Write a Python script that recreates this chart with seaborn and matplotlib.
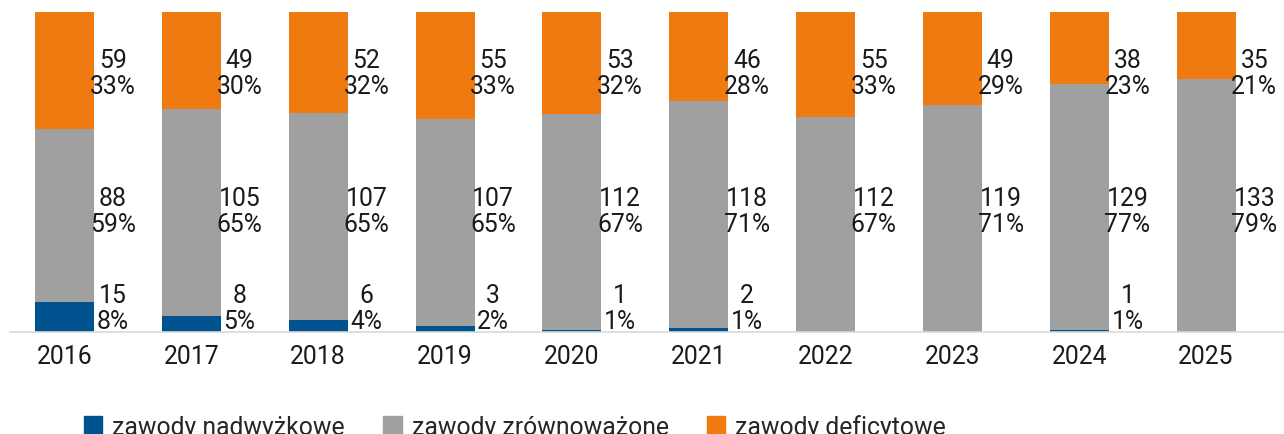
import matplotlib
matplotlib.use("Agg")
import matplotlib.pyplot as plt
from matplotlib.patches import Patch
import numpy as np
import pandas as pd
import seaborn as sns

# dane
lata = ["2016", "2017", "2018", "2019", "2020", "2021", "2022", "2023", "2024", "2025"]
nadwyzkowe = [15, 8, 6, 3, 1, 2, 0, 0, 1, 0]
zrownowazone = [88, 105, 107, 107, 112, 118, 112, 119, 129, 133]
deficytowe = [59, 49, 52, 55, 53, 46, 55, 49, 38, 35]
proc_nadwyzkowe = [8, 5, 4, 2, 1, 1, None, None, 1, None]
proc_zrownowazone = [59, 65, 65, 65, 67, 71, 67, 71, 77, 79]
proc_deficytowe = [33, 30, 32, 33, 32, 28, 33, 29, 23, 21]

kolory = {"nad": "#00538F", "zrow": "#A0A0A0", "def": "#EF7B10"}

sns.set_style("white")
plt.rcParams["font.family"] = ["Roboto", "DejaVu Sans"]

df = pd.DataFrame({"rok": lata, "nad": nadwyzkowe, "zrow": zrownowazone, "def": deficytowe})
suma = df["nad"] + df["zrow"] + df["def"]
df["c_nad"] = df["nad"] / suma
df["c_zrow"] = (df["nad"] + df["zrow"]) / suma
df["c_def"] = 1.0

fig = plt.figure(figsize=(12.84, 4.35), dpi=100)
ax = fig.add_axes([0.0078, 0.2345, 0.9922, 0.7355])

# słupki skumulowane (rysowane od góry)
for kol, c in [("c_def", "def"), ("c_zrow", "zrow"), ("c_nad", "nad")]:
    sns.barplot(data=df, x="rok", y=kol, color=kolory[c], width=0.465,
                saturation=1, ax=ax, errorbar=None, linewidth=0)

# etykiety
wiersze = [(nadwyzkowe, proc_nadwyzkowe, 0.075),
           (zrownowazone, proc_zrownowazone, 0.378),
           (deficytowe, proc_deficytowe, 0.81)]
for wart, proc, y in wiersze:
    for i, (v, p) in enumerate(zip(wart, proc)):
        if p is None:
            continue
        ax.text(i + 0.38, y, f"{v}\n{p}%", ha="center", va="center",
                fontsize=17.8, color="#1a1a1a", linespacing=1.1)

ax.set_xlim(-0.413, 9.614)
ax.set_ylim(0, 1.0)
ax.set_xlabel("")
ax.set_ylabel("")
ax.set_yticks([])
ax.set_xticks(range(len(lata)))
ax.set_xticklabels(lata, fontsize=17.8, color="#1a1a1a")
ax.set_xticks(np.arange(11) - 0.43, minor=True)
ax.tick_params(axis="x", which="major", length=0, pad=9)
ax.tick_params(axis="x", which="minor", length=8, color="#d9d9d9", width=1.2)
for s in ["top", "left", "right"]:
    ax.spines[s].set_visible(False)
ax.spines["bottom"].set_color("#d9d9d9")
ax.spines["bottom"].set_linewidth(1.2)

uchwyty = [Patch(color=kolory["nad"], label="zawody nadwyżkowe"),
           Patch(color=kolory["zrow"], label="zawody zrównoważone"),
           Patch(color=kolory["def"], label="zawody deficytowe")]
fig.legend(handles=uchwyty, loc="center", bbox_to_anchor=(0.401, 0.018), ncol=3,
           frameon=False, fontsize=17.8, handlelength=0.75, handleheight=0.75,
           handletextpad=0.4, columnspacing=1.55)

fig.savefig("out.png", dpi=100)
